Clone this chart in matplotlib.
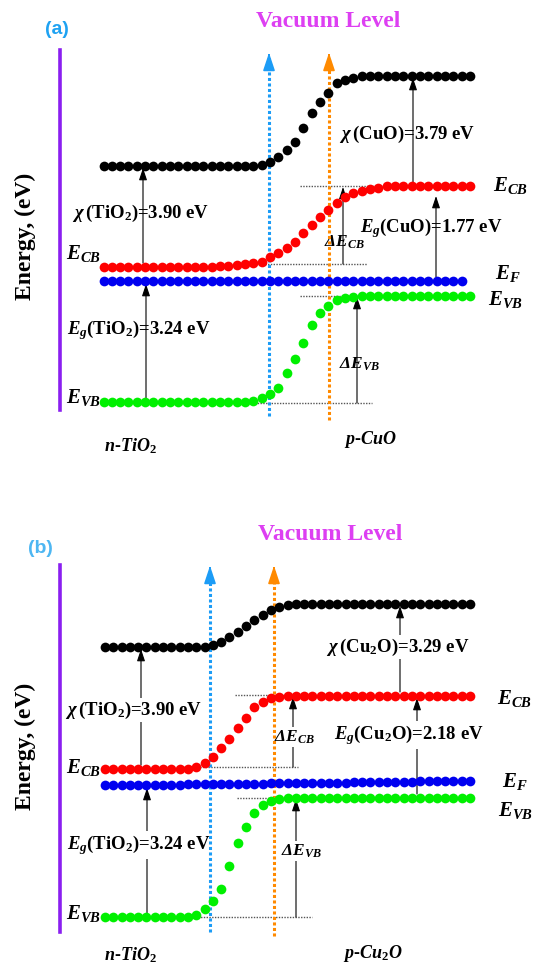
import numpy as np
import matplotlib.pyplot as plt

plt.rcParams['font.family'] = ['Liberation Serif', 'DejaVu Serif']
plt.rcParams['font.weight'] = 'bold'
plt.rcParams['mathtext.fontset'] = 'custom'
plt.rcParams['mathtext.rm'] = 'Liberation Serif:bold'
plt.rcParams['mathtext.it'] = 'Liberation Serif:bold:italic'
plt.rcParams['mathtext.bf'] = 'Liberation Serif:bold'

# band edges along the junction, drawn in screen-like units (down = lower energy)
# (a) TiO2 / CuO
pos_a = np.linspace(103.5, 470, 45)
vac_a = [166] * 19 + [165, 162, 157, 150, 142, 128, 113, 102, 93, 83, 80, 78] + [76] * 14
cb_a = [267] * 14 + [266, 266, 265, 264, 263] + \
       [262, 257, 253, 248, 242, 233, 225, 217, 210, 203, 197, 193, 191, 189, 188] + [186] * 11
ef_a = [281] * 44
vb_a = [402] * 18 + [401] + [398, 394, 388, 373, 359, 343, 325, 313, 306, 300, 298, 297] + [296] * 14

# (b) TiO2 / Cu2O
pos_b = np.linspace(105, 470, 45)
vac_b = [647] * 12 + [647, 645, 642, 637, 632, 626, 620, 615, 610, 607, 605] + [604] * 22
cb_b = [769] * 11 + [767, 763, 757, 748, 739, 728, 718, 707, 702, 698, 697] + [696] * 23
ef_b = [785] * 10 + [784] * 10 + [783] * 10 + [782] * 8 + [781] * 7
vb_b = [917] * 11 + [915, 909, 901, 889, 866, 843, 827, 813, 805, 801, 799] + [798] * 23

chi_tio2 = 3.90
eg_tio2 = 3.24
chi_cuo = 3.79
eg_cuo = 1.77
chi_cu2o = 3.29
eg_cu2o = 2.18

W, H = 537, 966
fig = plt.figure(figsize=(W / 100, H / 100), dpi=100)


def make_axes(top, bottom):
    ax = fig.add_axes([60 / W, 1 - bottom / H, (W - 60) / W, (bottom - top) / H])
    ax.set_xlim(60, W)
    ax.set_ylim(bottom, top)
    for s in ['top', 'right', 'bottom']:
        ax.spines[s].set_visible(False)
    ax.spines['left'].set_color('#8A1FF0')
    ax.spines['left'].set_linewidth(2.6)
    ax.set_xticks([])
    ax.set_yticks([])
    ax.patch.set_alpha(0)
    return ax


def dots(ax, x, y, color):
    ax.plot(x[:len(y)], y, 'o', color=color, ms=7.0, mew=0, clip_on=False, zorder=6)


def vac_line(ax, x, y0, y1, color):
    ax.plot([x, x], [y0, y1 + 8], ls=(0, (1, 0.8)), lw=2.2, color=color, clip_on=False, zorder=5)
    ax.annotate('', xy=(x, y1), xytext=(x, y1 + 10), annotation_clip=False,
                arrowprops=dict(arrowstyle='-|>,head_width=0.3,head_length=0.9',
                                color=color, lw=1.2, mutation_scale=12))


def guide(ax, y, x0, x1):
    ax.plot([x0, x1], [y, y], ls=(0, (1, 1)), lw=1, color='#555555', zorder=1)


def level_arrow(ax, x, y0, y1, label, ty, tx=None, box=False, fs=13.5, italic=False):
    ax.annotate('', xy=(x, y1), xytext=(x, y0), annotation_clip=False,
                arrowprops=dict(arrowstyle='-|>,head_width=0.3,head_length=0.9',
                                color='black', lw=0.8, mutation_scale=8, shrinkA=0, shrinkB=0),
                zorder=2)
    kw = {}
    if box:
        kw['bbox'] = dict(boxstyle='square,pad=0.1', fc='white', ec='none')
    if italic:
        kw['style'] = 'italic'
    ax.text(x if tx is None else tx, ty, label, ha='center', va='center', fontsize=fs,
            zorder=4, **kw)


dcb = r'ΔE$_{\mathit{CB}}$'
dvb = r'ΔE$_{\mathit{VB}}$'

# ---------- panel (a) ----------
ax = make_axes(50, 410)
vac_line(ax, 269, 416, 50, '#1C9CF6')
vac_line(ax, 329, 420, 50, '#FF8A00')
guide(ax, 186, 300, 395)
guide(ax, 264, 237, 367)
guide(ax, 296, 300, 376)
guide(ax, 403, 235, 372)
dots(ax, pos_a, vac_a, 'black')
dots(ax, pos_a, cb_a, '#FF0000')
dots(ax, pos_a, ef_a, '#0000F0')
dots(ax, pos_a, vb_a, '#00F000')

level_arrow(ax, 143, cb_a[0] - 4, vac_a[0] + 2, r'$\chi\,$(TiO$_\mathrm{2}$)=%.2f eV' % chi_tio2, 213, 141)
level_arrow(ax, 146, vb_a[0] - 4, ef_a[0] + 3, r'$E_g$(TiO$_\mathrm{2}$)=%.2f eV' % eg_tio2, 330, 139)
level_arrow(ax, 413, cb_a[-1] - 4, vac_a[-1] + 2, r'$\chi\,$(CuO)=%.2f eV' % chi_cuo, 134, 407)
level_arrow(ax, 436, ef_a[-1] - 4, cb_a[-1] + 10, r'$E_g$(CuO)=%.2f eV' % eg_cuo, 228, 431)
level_arrow(ax, 343, 264, cb_a[-1] + 1, dcb, 242, 344, fs=12.5, italic=True)
level_arrow(ax, 357, 403, vb_a[-1] + 1, dvb, 364, 359, fs=12.5, italic=True)

ax.text(101, 253, r'$E_{CB}$', ha='right', va='center', fontsize=15)
ax.text(101, 398, r'$E_{VB}$', ha='right', va='center', fontsize=15)
ax.text(493, 186, r'$E_{CB}$', ha='left', va='center', fontsize=15)
ax.text(495, 273, r'$E_F$', ha='left', va='center', fontsize=15)
ax.text(488, 300, r'$E_{VB}$', ha='left', va='center', fontsize=15)
ax.text(130, 446, r'$n$-$TiO_2$', ha='center', va='center', fontsize=13)
ax.text(370, 440, r'$p$-$CuO$', ha='center', va='center', fontsize=13)
ax.text(328, 22, 'Vacuum Level', color='#DD3FF2', ha='center', va='center', fontsize=17)
ax.text(57, 30, '(a)', color='#1EA2F2', ha='center', va='center', fontsize=14,
        family='Liberation Sans')
ax.text(25, 236, 'Energy, (eV)', rotation=90, ha='center', va='center', fontsize=17)

# ---------- panel (b) ----------
ax = make_axes(565, 932)
vac_line(ax, 210, 932, 563, '#1C9CF6')
vac_line(ax, 274, 936, 563, '#FF8A00')
guide(ax, 695, 235, 302)
guide(ax, 767, 183, 298)
guide(ax, 798, 237, 316)
guide(ax, 917, 170, 312)
dots(ax, pos_b, vac_b, 'black')
dots(ax, pos_b, cb_b, '#FF0000')
dots(ax, pos_b, ef_b, '#0000F0')
dots(ax, pos_b, vb_b, '#00F000')

level_arrow(ax, 141, cb_b[0] - 4, vac_b[0] + 2, r'$\chi\,$(TiO$_\mathrm{2}$)=%.2f eV' % chi_tio2, 710, 134, box=True)
level_arrow(ax, 147, vb_b[0] - 4, ef_b[0] + 3, r'$E_g$(TiO$_\mathrm{2}$)=%.2f eV' % eg_tio2, 845, 139, box=True)
level_arrow(ax, 400, cb_b[-1] - 4, vac_b[-1] + 2, r'$\chi\,$(Cu$_\mathrm{2}$O)=%.2f eV' % chi_cu2o, 647, 398, box=True)
level_arrow(ax, 417, vb_b[-1] - 4, cb_b[-1] + 2, r'$E_g$(Cu$_\mathrm{2}$O)=%.2f eV' % eg_cu2o, 735, 409, box=True)
level_arrow(ax, 293, 767, cb_b[-1] + 1, dcb, 737, 294, box=True, fs=12.5, italic=True)
level_arrow(ax, 296, 917, vb_b[-1] + 1, dvb, 851, 301, box=True, fs=12.5, italic=True)

ax.text(101, 767, r'$E_{CB}$', ha='right', va='center', fontsize=15)
ax.text(101, 913, r'$E_{VB}$', ha='right', va='center', fontsize=15)
ax.text(497, 698, r'$E_{CB}$', ha='left', va='center', fontsize=15)
ax.text(502, 781, r'$E_F$', ha='left', va='center', fontsize=15)
ax.text(498, 810, r'$E_{VB}$', ha='left', va='center', fontsize=15)
ax.text(130, 955, r'$n$-$TiO_2$', ha='center', va='center', fontsize=13)
ax.text(373, 953, r'$p$-$Cu_2O$', ha='center', va='center', fontsize=13)
ax.text(330, 534, 'Vacuum Level', color='#DD3FF2', ha='center', va='center', fontsize=17)
ax.text(40, 548, '(b)', color='#4DB6F2', ha='center', va='center', fontsize=14,
        family='Liberation Sans')
ax.text(25, 746, 'Energy, (eV)', rotation=90, ha='center', va='center', fontsize=17)

fig.savefig('out.png', dpi=100)
